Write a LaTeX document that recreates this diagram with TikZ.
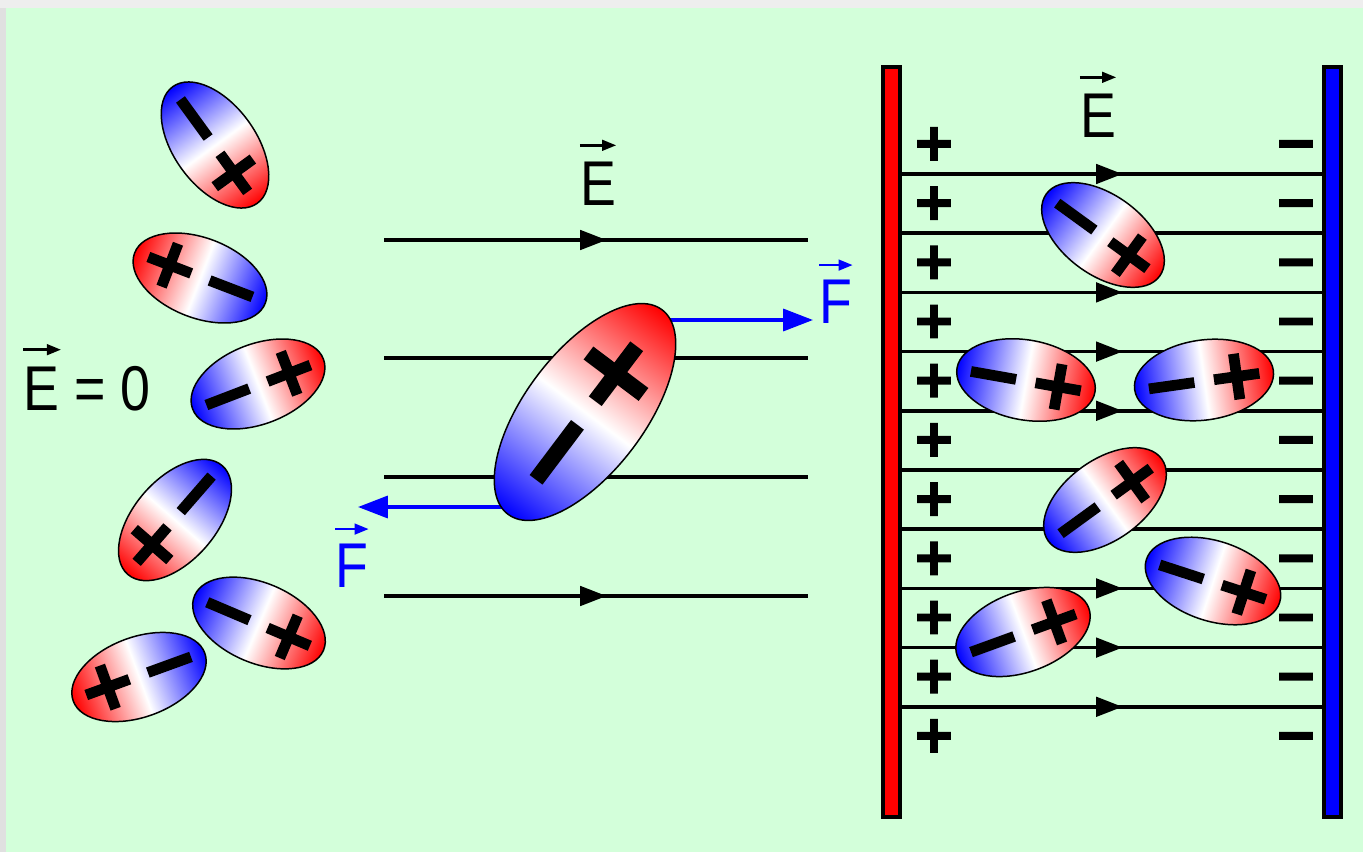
\documentclass[tikz,border=0pt]{standalone}
\usepackage{fontspec}
\setmainfont{Liberation Sans}
\newfontfamily\signfont[FakeBold=4]{DejaVu Sans Bold}
\usetikzlibrary{arrows.meta,decorations.markings}

\definecolor{bggreen}{RGB}{211,255,218}
\definecolor{bggrey}{RGB}{238,238,238}
\definecolor{edgegrey}{RGB}{224,224,224}

\tikzset{
	fieldline/.style={line width=2pt, postaction={decorate},
		decoration={markings, mark=at position 0.525 with {\arrow{Triangle[length=15pt,width=11pt]}}}},
	force/.style={blue, line width=2pt, -{Triangle[length=17pt,width=12.5pt]}},
	vecarrow/.style={line width=1.5pt, -{Triangle[length=8pt,width=6pt]}},
	letter/.style={inner sep=0pt, font=\fontsize{36}{40}\selectfont, xscale=0.85},
	plate/.style={draw=black, line width=1.8pt},
	dipole/.style={draw=black, line width=0.85pt, left color=blue, right color=red, middle color=white},
	charge/.style={inner sep=0pt, anchor=base}
}

% molecule: name, x, y, angle (blue -> red), half axes
\newcommand{\dipole}[6]{%
	\pgfmathsetmacro\sgnsize{0.98*#6}%
	\pgfmathsetmacro\sgnpos{0.82*#6}%
	\pgfmathsetmacro\sgnshift{-0.33*\sgnsize}%
	\begin{scope}[transform canvas={shift={(#2,#3)},rotate=#4}]
		\shade[dipole] (0,0) ellipse (#5 and #6);
		\node[charge, font=\signfont\fontsize{\sgnsize}{\sgnsize}\selectfont, yshift=\sgnshift pt] (#1m) at (-\sgnpos,0) {−};
		\node[charge, font=\signfont\fontsize{\sgnsize}{\sgnsize}\selectfont, yshift=\sgnshift pt] (#1p) at (\sgnpos,0) {+};
	\end{scope}}

\begin{document}
\begin{tikzpicture}[x=0.02cm, y=-0.02cm]
	% background
	\fill[bggrey] (0,0) rectangle (1363,852);
	\fill[edgegrey] (0,8) rectangle (6,852);
	\fill[bggreen] (6,8) rectangle (1363,852);
	\useasboundingbox (0,0) rectangle (1363,852);

	% no field
	\node[letter, anchor=base west] (Ezero) at (23,410) {E = 0};
	\draw[vecarrow] ([yshift=9pt]Ezero.north west) -- ++(38,0);
	\dipole{La}{215}{145}{-54}{72}{41}
	\dipole{Lb}{200}{278}{159}{70}{40}
	\dipole{Lc}{258}{384}{21}{70}{40}
	\dipole{Ld}{175}{520}{229}{72}{41}
	\dipole{Le}{259}{623}{-23}{70}{40}
	\dipole{Lf}{139}{677}{200}{70}{40}

	% single molecule in a field
	\foreach \y in {240,358,477,596}
		\draw[fieldline] (384,\y) -- (808,\y);
	\node[letter, anchor=base] (Emid) at (598,205) {E};
	\draw[vecarrow] ([yshift=9pt]Emid.north west) -- ([yshift=9pt]Emid.north east);
	\coordinate (fpbase) at (650,320);
	\coordinate (fptip) at (813,320);
	\coordinate (fmbase) at (520,507);
	\coordinate (fmtip) at (358,507);
	\draw[force] (fpbase) -- (fptip);
	\draw[force] (fmbase) -- (fmtip);
	\dipole{M}{585}{412}{53}{128}{60}
	\node[letter, anchor=base, blue] (Fright) at (836,323) {F};
	\draw[vecarrow, blue] ([yshift=8pt]Fright.north west) -- ([yshift=8pt]Fright.north east);
	\node[letter, anchor=base, blue] (Fleft) at (352,587) {F};
	\draw[vecarrow, blue] ([yshift=8pt]Fleft.north west) -- ([yshift=8pt]Fleft.north east);

	% capacitor
	\foreach \k in {0,...,9} {
		\pgfmathsetmacro\y{174+59.2*\k}
		\draw[fieldline] (901,\y) -- (1323,\y);
	}
	\draw[plate, fill=red] (883,67) rectangle (900,817);
	\draw[plate, fill=blue] (1324,67) rectangle (1341,817);
	\foreach \k in {0,...,10} {
		\pgfmathsetmacro\y{143+59.2*\k}
		\node[charge, font=\signfont\fontsize{29}{29}\selectfont, yshift=-9.6pt] (pos\k) at (934,\y) {+};
		\node[charge, font=\signfont\fontsize{29}{29}\selectfont, yshift=-9.6pt] (neg\k) at (1296,\y) {−};
	}
	\node[letter, anchor=base] (Eplate) at (1098,137) {E};
	\draw[vecarrow] ([yshift=9pt]Eplate.north west) -- ([yshift=9pt]Eplate.north east);
	\dipole{Ra}{1103}{235}{-36}{70}{40}
	\dipole{Rb}{1026}{380}{-10}{70}{40}
	\dipole{Rc}{1204}{380}{8}{70}{40}
	\dipole{Rd}{1105}{500}{36}{70}{40}
	\dipole{Re}{1213}{581}{-18}{70}{40}
	\dipole{Rf}{1023}{632}{20}{70}{40}
\end{tikzpicture}
\end{document}
